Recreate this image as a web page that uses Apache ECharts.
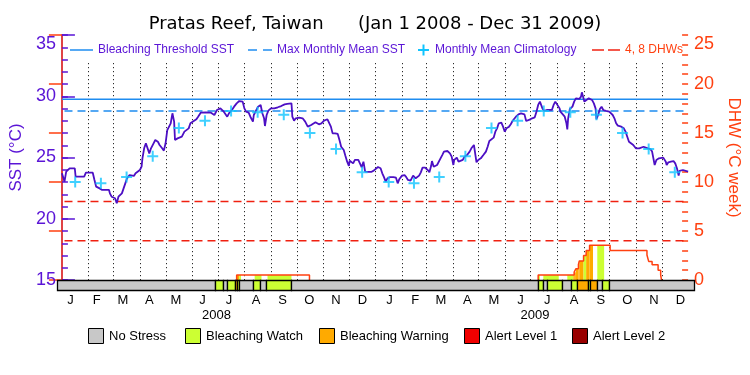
<!DOCTYPE html>
<html><head><meta charset="utf-8">
<script src="https://cdn.jsdelivr.net/npm/echarts@6/dist/echarts.min.js"></script>
<style>html,body{margin:0;padding:0;background:#fff}#c{width:750px;height:375px}</style>
</head><body><div id="c"></div>
<script>
// ---------- data ----------
const monthLetters = ['J','F','M','A','M','J','J','A','S','O','N','D'];
const yearLabels = ['2008','2009'];
// day index (0 = Jan 1 2008) of each month start, plus end of 2009
const monthStartDays = [0,31,60,91,121,152,182,213,244,274,305,335,366,397,425,456,486,517,547,578,609,639,670,700,731];
const climatology = [23.0,22.9,23.4,25.1,27.4,28.0,28.8,28.7,28.5,27.0,25.7,23.8];
const bleachingThreshold = 29.75;
const maxMonthlyMean = 28.8;
const dhwLevelLines = [4, 8];

const sstDays = [0,3,5,9,15,16,26,28,36,38,40,44,47,55,56,58,60,62,64,66,68,70,72,74,76,79,81,84,86,88,91,93,94,96,98,100,102,104,107,109,112,114,117,119,121,123,125,127,129,131,132,135,137,140,143,145,148,150,153,157,159,162,168,174,178,180,181,185,187,189,191,193,195,197,199,201,204,207,209,211,213,215,218,220,223,224,227,229,232,234,236,237,239,241,244,248,252,256,260,263,265,268,269,271,273,277,281,284,287,289,291,293,296,300,303,306,310,312,314,316,319,322,324,326,329,331,333,335,336,338,340,342,346,348,350,352,354,357,361,364,
366,369,372,374,376,378,380,383,387,390,392,394,397,400,402,404,407,410,411,413,415,417,419,421,424,427,429,431,432,434,436,438,440,442,444,446,450,453,455,457,458,459,461,463,465,468,470,473,476,478,481,483,484,486,489,492,495,497,499,501,504,506,508,510,513,515,517,519,522,524,526,528,530,533,536,540,542,544,546,549,552,554,556,558,559,561,563,566,572,574,576,578,581,582,584,587,589,590,591,593,596,598,600,602,604,606,607,609,610,612,615,617,619,621,623,624,626,628,630,632,635,639,643,645,647,649,653,656,658,660,662,664,667,670,674,676,679,681,684,687,689,692,694,697,699,702,705,706,708,711,714,716,718,720,721,723,725,727,731];
const sstValues = [23.71,23.03,23.84,24.12,24.12,23.44,23.44,23.76,23.76,23.16,22.62,22.48,22.35,22.35,22.07,21.80,21.94,21.67,21.26,21.80,21.86,22.07,22.48,22.89,23.30,23.57,23.65,23.49,23.71,23.84,23.98,24.25,24.93,25.75,26.16,26.02,25.34,25.75,26.16,26.43,26.29,26.02,25.75,25.56,26.16,27.24,27.38,27.79,28.61,27.93,26.43,26.56,26.56,26.70,27.11,27.24,27.38,27.79,27.93,28.12,28.33,28.66,28.69,28.66,28.47,28.61,28.88,29.01,29.01,28.74,28.88,28.33,28.61,28.74,28.93,29.15,29.42,29.61,29.69,29.56,29.01,28.74,28.66,28.33,27.93,28.47,28.88,29.15,29.29,28.61,28.20,27.57,28.47,28.82,29.01,29.01,29.10,29.20,29.34,29.37,29.48,29.42,28.33,28.01,28.20,28.25,28.20,27.93,27.52,27.38,27.65,27.79,27.87,27.71,27.79,28.01,28.12,28.06,27.52,26.97,26.97,26.92,26.43,25.88,25.61,25.12,24.66,24.31,24.74,24.66,24.52,24.80,24.80,24.66,24.20,24.66,23.84,23.82,23.82,23.93,
23.98,24.22,24.12,23.71,23.40,23.03,23.30,23.40,23.40,23.35,22.89,23.25,23.52,23.57,23.40,23.17,23.11,23.52,23.57,23.30,23.35,23.52,23.79,24.17,24.17,23.98,23.79,24.30,24.71,24.25,24.25,24.39,24.52,24.93,25.20,25.48,25.53,25.34,25.07,24.39,24.80,24.93,24.99,24.66,24.52,24.80,25.07,25.20,25.48,25.75,26.02,25.07,24.61,24.80,24.93,25.20,25.48,25.88,26.35,26.51,26.62,27.11,27.38,27.79,27.84,27.52,27.11,27.38,27.52,27.71,27.98,27.93,28.33,28.52,28.60,28.52,27.98,27.93,28.09,28.20,28.28,28.74,29.29,29.56,29.69,29.01,28.80,28.88,28.88,29.29,29.56,29.50,29.01,28.74,28.61,28.33,27.79,27.30,28.20,28.96,29.15,29.56,29.83,29.88,29.78,29.97,30.32,30.24,29.56,29.69,29.83,29.78,29.69,29.42,29.01,28.12,28.47,28.96,29.15,28.88,28.80,28.74,28.47,28.20,27.79,27.60,27.52,27.38,27.11,26.70,26.29,26.16,26.02,25.75,25.75,25.88,25.88,25.97,25.75,25.69,25.48,24.39,24.80,24.93,24.99,24.99,24.66,24.39,24.61,24.66,24.71,24.52,24.12,23.52,23.90,23.79,23.98,23.90,23.84];

// Degree Heating Weeks: value holds from the given day until the next entry
const dhwDays   = [204, 289, 556, 598, 600, 603, 604, 609, 612, 616, 640, 683, 685, 689, 696, 699, 700];
const dhwValues = [0.5, 0,   0.5, 0.8, 1.15,1.6, 1.95,2.5, 3.0, 3.55,3.0, 2.55,1.9, 1.55,1.0, 0.5, 0];

// stress level segments: 0 No Stress, 1 Watch, 2 Warning, 3 Alert 1, 4 Alert 2
const stressStart = [0,  181,191,195,204,207,209,225,233,240,268, 552,558,562,580,590,597,609,612,620,625,633];
const stressEnd   = [181,191,195,204,207,209,225,233,240,268,552, 558,562,580,590,597,609,612,620,625,633,731];
const stressLevel = [0,  1,  0,  1,  2,  1,  0,  1,  0,  1,  0,   1,  0,  1,  0,  1,  2,  1,  2,  0,  1,  0];

const stressNames = ['No Stress','Bleaching Watch','Bleaching Warning','Alert Level 1','Alert Level 2'];
const stressColors = ['#c8c8c8','#ccff33','#ffaa00','#f00000','#990000'];

// ---------- derived ----------
const PURPLE = '#5a14d6', SSTLINE = '#4c0fc4', BLUE = '#1e8cf0', CYAN = '#10c4ff', RED = '#f02010', ORANGE = '#ff4010';
const FONT = 'Liberation Sans';
const totalDays = monthStartDays[monthStartDays.length - 1];
const monthMids = [];
for (let i = 0; i < 24; i++) monthMids.push((monthStartDays[i] + monthStartDays[i + 1]) / 2);
const yearMids = [(monthStartDays[0] + monthStartDays[12]) / 2, (monthStartDays[12] + monthStartDays[24]) / 2];
const sstData = sstDays.map((d, i) => [d, sstValues[i]]);
const climData = monthMids.map((m, i) => [m, climatology[i % 12]]);
const boundaries = monthStartDays.slice(1, 24);

// DHW outline
const dhwLine = [];
for (let i = 0; i < dhwDays.length; i++) {
  const v = dhwValues[i];
  if (v > 0 && (i === 0 || dhwValues[i - 1] === 0)) dhwLine.push([dhwDays[i], 0]);
  dhwLine.push([dhwDays[i], v]);
  if (v === 0) dhwLine.push([dhwDays[i], '-']);
}
// DHW fill rectangles coloured by stress level
const fillRects = [];
for (let s = 0; s < stressStart.length; s++) {
  if (stressLevel[s] === 0) continue;
  for (let i = 0; i < dhwDays.length - 1; i++) {
    const v = dhwValues[i];
    if (v <= 0) continue;
    const a = Math.max(stressStart[s], dhwDays[i]);
    const b = Math.min(stressEnd[s], dhwDays[i + 1]);
    if (b > a) fillRects.push([a, b, v, stressLevel[s]]);
  }
}
const bandData = stressStart.map((s, i) => [s, stressEnd[i], stressLevel[i]]);

const chart = echarts.init(document.getElementById('c'));
const gridL = 57, gridR = 56;

// legends as graphics
const g = [];
function txt(x, y, s, color, size, align) {
  g.push({type: 'text', x: x, y: y, style: {text: s, fill: color, font: (size || 12) + 'px "' + FONT + '"', textVerticalAlign: 'middle', textAlign: align || 'left'}, silent: true});
}
function seg(x1, x2, y, color, w) {
  g.push({type: 'line', shape: {x1: x1, y1: y, x2: x2, y2: y}, style: {stroke: color, lineWidth: w || 1.5}, silent: true});
}
const ly = 50;
seg(70, 93, ly, BLUE); txt(98, ly, 'Bleaching Threshold SST', PURPLE);
seg(248, 257, ly, BLUE); seg(263, 272, ly, BLUE); txt(277, ly, 'Max Monthly Mean SST', PURPLE);
seg(418, 429, ly, CYAN, 2); g.push({type: 'line', shape: {x1: 423.5, y1: ly - 5.5, x2: 423.5, y2: ly + 5.5}, style: {stroke: CYAN, lineWidth: 2}, silent: true});
txt(435, ly, 'Monthly Mean Climatology', PURPLE);
seg(592, 604, ly, RED); seg(608, 620, ly, RED); txt(625, ly, '4, 8 DHWs', ORANGE);
// bottom legend
const bx = [88, 185, 319, 464, 572];
stressNames.forEach((n, i) => {
  g.push({type: 'rect', shape: {x: bx[i] + 0.5, y: 328.5, width: 15, height: 15}, style: {fill: stressColors[i], stroke: '#000', lineWidth: 1}, silent: true});
  txt(bx[i] + 21, 336, n, '#000', 13);
});

const plusPath = 'path://M4.5,0h2v4.5h4.5v2h-4.5v4.5h-2v-4.5h-4.5v-2h4.5z';

function minorAxis(pos, min, max, color) {
  return {gridIndex: 0, type: 'value', min: min, max: max, interval: 1, position: pos, offset: 0,
    axisLine: {show: false}, axisLabel: {show: false}, splitLine: {show: false},
    axisTick: {show: true, inside: true, length: 6, lineStyle: {color: color, width: 1.5}}};
}

chart.setOption({
  animation: false,
  title: {text: 'Pratas Reef, Taiwan      (Jan 1 2008 - Dec 31 2009)', left: 'center', top: 10,
    textStyle: {fontFamily: 'DejaVu Sans', fontSize: 18, fontWeight: 'normal', color: '#000'}},
  graphic: g,
  grid: [
    {left: gridL, right: gridR, top: 35, height: 245},
    {left: gridL, right: gridR, top: 280, height: 10}
  ],
  xAxis: [
    {gridIndex: 0, type: 'value', min: 0, max: totalDays, show: false},
    {gridIndex: 0, type: 'value', min: 0, max: totalDays, position: 'top', axisLine: {show: true, lineStyle: {color: '#000', width: 1}},
      axisTick: {show: false}, axisLabel: {show: false}, splitLine: {show: false}},
    {gridIndex: 1, type: 'value', min: 0, max: totalDays, position: 'bottom', offset: 0, axisLine: {show: false}, axisTick: {show: false}, splitLine: {show: false},
      axisLabel: {customValues: monthMids, margin: 4, color: '#000', fontFamily: FONT, fontSize: 13,
        formatter: v => monthLetters[monthMids.indexOf(v) % 12]}},
    {gridIndex: 1, type: 'value', min: 0, max: totalDays, position: 'bottom', offset: 0, axisLine: {show: false}, axisTick: {show: false}, splitLine: {show: false},
      axisLabel: {customValues: yearMids, margin: 19, color: '#000', fontFamily: FONT, fontSize: 13,
        formatter: v => yearLabels[yearMids.indexOf(v)]}}
  ],
  yAxis: [
    {gridIndex: 0, type: 'value', min: 15, max: 35, interval: 5, position: 'left', offset: 0,
      name: 'SST (°C)', nameLocation: 'middle', nameGap: 31, nameRotate: 90,
      nameTextStyle: {color: PURPLE, fontFamily: FONT, fontSize: 17},
      axisLine: {show: true, lineStyle: {color: PURPLE, width: 1.5}},
      axisTick: {show: true, inside: true, length: 13, lineStyle: {color: PURPLE, width: 1.5}},
      axisLabel: {color: PURPLE, fontFamily: FONT, fontSize: 18, margin: 6, verticalAlignMaxLabel: 'top'},
      splitLine: {show: false}},
    {gridIndex: 0, type: 'value', min: 0, max: 25, interval: 5, position: 'right', offset: 0,
      name: 'DHW (°C week)', nameLocation: 'middle', nameGap: 28, nameRotate: -90,
      nameTextStyle: {color: ORANGE, fontFamily: FONT, fontSize: 17},
      axisLine: {show: true, lineStyle: {color: ORANGE, width: 1.5}},
      axisTick: {show: true, inside: true, length: 13, lineStyle: {color: ORANGE, width: 1.5}},
      axisLabel: {color: ORANGE, fontFamily: FONT, fontSize: 18, margin: 6, verticalAlignMaxLabel: 'top'},
      splitLine: {show: false}},
    {gridIndex: 1, type: 'value', min: 0, max: 1, show: false},
    minorAxis('left', 15, 35, PURPLE),
    minorAxis('right', 0, 25, ORANGE)
  ],
  series: [
    {name: 'monthLines', type: 'custom', xAxisIndex: 0, yAxisIndex: 0, silent: true, z: 1,
      data: boundaries.map(b => [b]),
      renderItem: (params, api) => {
        const p1 = api.coord([api.value(0), 15]);
        const p2 = api.coord([api.value(0), 32.7]);
        const x = Math.round(p1[0]) + 0.5;
        return {type: 'line', shape: {x1: x, y1: p2[1], x2: x, y2: p1[1]}, style: {stroke: '#000', lineWidth: 1, lineDash: [1, 3]}};
      }},
    {name: 'dhwFill', type: 'custom', xAxisIndex: 0, yAxisIndex: 1, silent: true, z: 2,
      data: fillRects,
      renderItem: (params, api) => {
        const a = api.coord([api.value(0), api.value(2)]);
        const b = api.coord([api.value(1), 0]);
        return {type: 'rect', shape: {x: a[0], y: a[1], width: b[0] - a[0], height: b[1] - a[1]}, style: {fill: stressColors[api.value(3)]}};
      }},
    {name: 'Bleaching Threshold SST', type: 'line', xAxisIndex: 0, yAxisIndex: 0, z: 3, symbol: 'none', silent: true,
      data: [[0, bleachingThreshold], [totalDays, bleachingThreshold]], lineStyle: {color: BLUE, width: 1.5}},
    {name: 'Max Monthly Mean SST', type: 'line', xAxisIndex: 0, yAxisIndex: 0, z: 3, symbol: 'none', silent: true,
      data: [[3, maxMonthlyMean], [totalDays, maxMonthlyMean]], lineStyle: {color: BLUE, width: 1.5, type: [8, 5]}},
    {name: '4, 8 DHWs', type: 'line', xAxisIndex: 0, yAxisIndex: 1, z: 3, symbol: 'none', silent: true,
      data: [[3, dhwLevelLines[0]], [totalDays, dhwLevelLines[0]], [totalDays, '-'], [3, dhwLevelLines[1]], [totalDays, dhwLevelLines[1]]],
      lineStyle: {color: RED, width: 1.5, type: [8, 5]}},
    {name: 'SST', type: 'line', xAxisIndex: 0, yAxisIndex: 0, z: 4, symbol: 'none', silent: true,
      data: sstData, lineStyle: {color: SSTLINE, width: 1.8}},
    {name: 'DHW', type: 'line', xAxisIndex: 0, yAxisIndex: 1, z: 4, symbol: 'none', silent: true, step: 'end',
      data: dhwLine, lineStyle: {color: ORANGE, width: 1.5}},
    {name: 'Monthly Mean Climatology', type: 'scatter', xAxisIndex: 0, yAxisIndex: 0, z: 5, silent: true,
      symbol: plusPath, symbolSize: 11, itemStyle: {color: CYAN}, data: climData},
    {name: 'stress', type: 'custom', xAxisIndex: 2, yAxisIndex: 2, silent: true, z: 6,
      data: bandData,
      renderItem: (params, api) => {
        const a = api.coord([api.value(0), 1]);
        const b = api.coord([api.value(1), 0]);
        const x1 = Math.round(a[0]) + 0.5, x2 = Math.round(b[0]) + 0.5;
        return {type: 'rect', shape: {x: x1, y: Math.round(a[1]) + 0.5, width: x2 - x1, height: Math.round(b[1] - a[1])},
          style: {fill: stressColors[api.value(2)], stroke: '#000', lineWidth: 1.3}};
      }}
  ]
});
</script></body></html>
